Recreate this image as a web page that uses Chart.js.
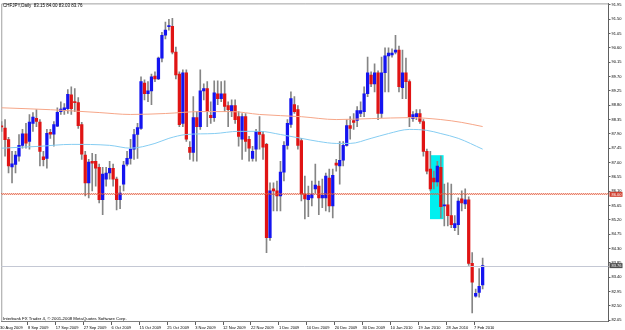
<!DOCTYPE html>
<html>
<head>
<meta charset="utf-8">
<script src="https://cdn.jsdelivr.net/npm/chart.js@4.4.1/dist/chart.umd.min.js"></script>
<style>
    html, body { margin: 0; padding: 0; background: #ffffff; }
</style>
</head>
<body>
<canvas id="chfjpy" width="625" height="330"></canvas>
<script>
// CHFJPY daily candles, one entry per bar (bar 0 = 30 Aug 2009)
let opens = [88.14,88.08,87.72,86.86,86.94,87.20,87.54,87.90,87.66,88.23,88.39,88.27,87.18,87.13,87.95,87.89,88.14,88.60,88.64,88.69,
    89.13,88.91,88.88,88.19,87.23,86.36,87.04,87.04,86.85,85.83,86.48,86.67,86.82,86.48,85.83,86.32,86.95,87.13,87.42,87.88,
    88.07,89.50,89.16,89.25,89.72,89.63,90.28,91.00,91.27,91.28,90.47,89.78,88.23,89.82,87.48,87.32,88.41,88.13,89.25,89.32,
    88.48,88.41,89.16,89.01,89.16,88.79,88.60,88.79,88.44,87.73,88.44,87.73,87.13,87.42,87.98,87.88,87.57,84.64,86.17,86.11,
    85.95,86.70,87.54,88.20,88.82,88.66,87.69,86.01,85.83,85.89,86.17,86.26,85.89,85.89,86.51,85.64,86.98,86.89,87.07,87.54,
    88.16,88.32,88.32,88.54,88.60,89.16,89.75,89.47,89.82,88.54,89.82,90.35,90.38,90.47,90.53,89.35,89.82,89.54,88.38,88.44,
    88.54,88.29,87.35,86.79,86.51,86.39,86.85,85.64,85.67,85.33,84.95,85.05,85.86,85.70,85.83,83.83,82.80,82.92,83.15];
let highs = [88.29,88.35,87.79,87.35,87.35,87.88,88.04,88.23,88.51,88.57,88.66,88.35,87.35,88.04,88.04,88.29,88.72,88.91,88.85,89.29,
    89.38,89.32,89.04,88.26,87.35,87.10,87.29,87.26,86.95,86.85,86.85,87.04,86.95,86.54,86.26,87.04,87.35,87.73,88.04,88.23,
    89.69,89.60,89.54,89.78,89.85,90.31,91.09,91.41,91.50,91.53,90.63,89.85,89.91,89.91,87.66,89.07,88.60,89.91,89.47,89.54,
    88.91,89.57,89.57,89.54,89.57,88.91,88.97,88.97,88.60,88.54,88.54,87.82,87.51,88.04,88.44,87.98,87.60,86.36,86.36,86.42,
    87.04,87.66,88.35,89.22,89.07,88.79,87.76,86.57,86.26,86.42,86.95,86.42,86.48,86.67,86.79,86.79,87.10,87.66,87.66,88.35,
    88.44,88.54,88.76,88.91,89.38,90.31,89.85,90.10,89.88,90.31,90.60,90.60,90.57,91.00,90.66,90.53,90.28,89.60,88.60,88.66,
    88.66,88.35,87.42,87.35,86.73,87.04,87.20,86.32,86.36,86.32,85.33,85.89,86.11,86.17,85.92,84.17,83.02,83.67,84.00];
let lows = [87.98,87.20,86.67,86.36,86.67,87.04,87.45,87.45,87.42,87.98,88.13,86.89,86.89,86.82,87.76,87.51,88.13,88.51,88.51,88.54,
    88.51,88.60,88.07,87.10,85.95,85.89,86.11,86.26,85.73,85.36,86.26,86.48,86.26,85.51,85.55,86.11,86.89,86.95,87.10,87.13,
    88.04,88.97,88.91,88.82,89.54,89.60,90.16,90.88,91.16,90.41,89.63,88.13,88.13,87.66,87.10,87.04,87.04,88.04,88.97,88.13,
    88.23,88.29,88.82,88.91,88.60,88.13,88.44,88.23,87.51,87.10,87.35,87.04,87.04,87.04,87.42,87.10,84.17,84.55,85.48,85.48,
    85.48,86.42,87.42,88.10,88.54,87.42,85.79,85.23,85.30,85.64,86.04,85.36,85.58,85.48,85.45,85.26,86.73,86.32,86.89,87.51,
    87.73,88.04,88.13,88.44,88.44,89.07,89.38,89.22,88.35,88.41,89.22,89.22,90.31,90.41,89.22,89.01,89.01,88.13,88.29,88.35,
    88.23,87.20,86.64,86.11,86.17,86.26,85.26,85.01,85.01,84.95,84.86,84.73,85.48,85.55,83.77,82.27,82.77,82.77,83.03];
let closes = [88.12,87.72,86.89,86.96,87.23,87.54,87.90,87.61,88.27,88.43,88.29,87.35,87.09,87.92,87.89,88.19,88.58,88.68,88.72,89.14,
    88.69,88.88,88.16,87.26,86.36,87.01,86.98,86.82,85.83,86.64,86.67,86.82,86.48,85.83,86.04,86.92,87.13,87.42,87.88,88.10,
    89.54,89.16,89.25,89.69,89.63,90.28,91.00,91.16,91.29,90.47,89.75,88.19,89.82,87.73,87.32,88.41,88.13,89.25,89.32,88.60,
    88.41,89.19,89.01,89.16,88.76,88.66,88.79,88.35,87.82,88.44,87.66,87.45,87.35,87.98,87.88,87.48,84.64,86.11,86.11,85.95,
    86.70,87.54,88.23,89.01,88.60,87.54,86.01,85.86,85.98,86.01,86.29,85.89,85.98,86.57,85.64,86.60,86.92,87.07,87.54,88.16,
    88.07,88.26,88.63,88.63,89.16,89.82,89.47,89.82,88.54,89.82,90.35,90.44,90.44,90.53,89.38,89.82,89.54,88.44,88.51,88.54,
    88.29,87.35,86.73,86.17,86.39,86.89,85.61,85.67,85.33,85.05,85.08,85.79,85.73,85.83,83.83,83.24,82.89,83.11,83.76];

// moving averages at a few bars
let maSlowBars = [0,14,28,37,47,57,66,74,86,96,106,117,126,132,138];
let maSlow = [88.72,88.66,88.57,88.51,88.54,88.60,88.60,88.51,88.44,88.35,88.38,88.41,88.35,88.26,88.13];
let maFastBars = [0,11,20,31,37,44,48,53,61,68,74,80,86,91,96,100,106,111,117,122,126,131,138];
let maFast = [87.45,87.51,87.57,87.54,87.45,87.60,87.76,87.88,87.91,87.98,87.98,87.88,87.76,87.66,87.60,87.60,87.76,87.91,88.04,88.01,87.91,87.76,87.42];

// axis labels
let dateLabels = ['30 Aug 2009','8 Sep 2009','17 Sep 2009','27 Sep 2009','6 Oct 2009','15 Oct 2009','25 Oct 2009','3 Nov 2009',
    '12 Nov 2009','22 Nov 2009','1 Dec 2009','10 Dec 2009','20 Dec 2009','30 Dec 2009','10 Jan 2010','19 Jan 2010','28 Jan 2010','7 Feb 2010'];
let priceTicks = [82.05,82.50,82.95,83.40,83.85,84.30,84.75,85.20,85.65,86.10,86.55,87.00,87.45,87.90,88.35,88.80,89.25,89.70,90.15,90.60,91.05,91.50,91.95];

// chart objects: horizontal level, last price, highlighted rectangle (from bar, to bar, low, high)
let levelLine = 86.00;
let lastPrice = 83.76;
let highlightBox = [122.9, 126.8, 85.22, 87.23];

let titleText = 'CHFJPY,Daily  83.15 84.00 83.03 83.76';
let footText = 'Interbank FX Trader 4, \u00a9 2001-2008 MetaQuotes Software Corp.';

const FONT = 'Liberation Sans';

let mtObjects = {
    id: 'mtObjects',
    beforeDatasetsDraw(chart){
        let ctx = chart.ctx;
        let x = chart.scales.x, y = chart.scales.y;
        let a = chart.chartArea;
        ctx.save();
        //frame top + left
        ctx.strokeStyle = '#a0a0a0';
        ctx.lineWidth = 1;
        ctx.beginPath();
        ctx.moveTo(a.left + 0.5, a.bottom);
        ctx.lineTo(a.left + 0.5, a.top + 0.5);
        ctx.lineTo(a.right, a.top + 0.5);
        ctx.stroke();
        //cyan rectangle
        let x0 = x.getPixelForValue(highlightBox[0]);
        let x1 = x.getPixelForValue(highlightBox[1]);
        let yb = y.getPixelForValue(highlightBox[2]);
        let yt = y.getPixelForValue(highlightBox[3]);
        ctx.fillStyle = '#00f0f0';
        ctx.fillRect(x0, yt, x1 - x0, yb - yt);
        ctx.restore();
    },
    afterDatasetsDraw(chart){
        let ctx = chart.ctx;
        let y = chart.scales.y;
        let a = chart.chartArea;
        ctx.save();
        //last price line
        let py = Math.round(y.getPixelForValue(lastPrice)) + 0.5;
        ctx.strokeStyle = '#c4c8d4';
        ctx.lineWidth = 1;
        ctx.beginPath();
        ctx.moveTo(a.left, py);
        ctx.lineTo(a.right, py);
        ctx.stroke();
        //dotted level line, two rows
        let ly = Math.round(y.getPixelForValue(levelLine)) - 0.5;
        ctx.strokeStyle = '#e2583a';
        ctx.setLineDash([1, 1]);
        for(let r = 0; r < 2; r++){
            ctx.lineDashOffset = r;
            ctx.beginPath();
            ctx.moveTo(a.left, ly + r);
            ctx.lineTo(a.right, ly + r);
            ctx.stroke();
        }
        ctx.restore();
    },
    afterDraw(chart){
        let ctx = chart.ctx;
        let y = chart.scales.y;
        let a = chart.chartArea;
        ctx.save();
        ctx.textBaseline = 'middle';
        ctx.font = '4px ' + FONT;
        //price boxes on the axis
        [[levelLine, '#d04030'], [lastPrice, '#505050']].forEach(b => {
            let by = y.getPixelForValue(b[0]);
            ctx.fillStyle = b[1];
            ctx.fillRect(a.right + 1, by - 2.5, 13, 5);
            ctx.fillStyle = '#ffffff';
            ctx.fillText(b[0].toFixed(2), a.right + 3, by + 0.2);
        });
        //texts
        ctx.fillStyle = '#000000';
        ctx.textBaseline = 'alphabetic';
        ctx.font = '4.5px ' + FONT;
        ctx.fillText(titleText, 3, 6.5);
        ctx.font = '4.3px ' + FONT;
        ctx.fillText(footText, 3, 319.5);
        ctx.restore();
    }
};

let candleBodies = opens.map((o, i) => ({x: i, y: [o, closes[i]]}));
let candleWicks = lows.map((l, i) => ({x: i, y: [l, highs[i]]}));
let bodyColors = opens.map((o, i) => closes[i] >= o ? '#1414f0' : '#e01414');

new Chart(document.querySelector('#chfjpy'), {
    type: 'bar',
    data: {
        datasets: [
            {
                type: 'line',
                data: maSlowBars.map((b, i) => ({x: b, y: maSlow[i]})),
                borderColor: '#f6a688',
                borderWidth: 1,
                pointRadius: 0,
                cubicInterpolationMode: 'monotone',
                order: 1
            },
            {
                type: 'line',
                data: maFastBars.map((b, i) => ({x: b, y: maFast[i]})),
                borderColor: '#86cdf2',
                borderWidth: 1,
                pointRadius: 0,
                cubicInterpolationMode: 'monotone',
                order: 1
            },
            {
                data: candleBodies,
                backgroundColor: bodyColors,
                barThickness: 2.6,
                minBarLength: 1,
                grouped: false,
                order: 2
            },
            {
                data: candleWicks,
                backgroundColor: '#858585',
                barThickness: 1,
                grouped: false,
                order: 3
            }
        ]
    },
    options: {
        responsive: false,
        animation: false,
        layout: { padding: { left: 1, top: 1, right: 0, bottom: 0 } },
        plugins: {
            legend: { display: false },
            tooltip: { enabled: false },
            title: { display: false }
        },
        scales: {
            x: {
                type: 'linear',
                min: -0.09,
                max: 174.1,
                offset: false,
                afterBuildTicks: s => { s.ticks = dateLabels.map((d, i) => ({value: i * 8 - 0.45})); },
                afterFit: s => { s.height = 9; },
                ticks: {
                    autoSkip: false,
                    maxRotation: 0,
                    align: 'start',
                    padding: 0,
                    color: '#000000',
                    font: { family: FONT, size: 4 },
                    callback: (v, i) => dateLabels[i]
                },
                grid: { drawOnChartArea: false, offset: false, tickLength: 4, color: '#606060' },
                border: { color: '#808080' }
            },
            y: {
                position: 'right',
                min: 82.02,
                max: 92.0,
                afterBuildTicks: s => { s.ticks = priceTicks.map(v => ({value: v})); },
                afterFit: s => { s.width = 16.5; },
                ticks: {
                    padding: 1,
                    color: '#000000',
                    font: { family: FONT, size: 4 },
                    callback: v => v.toFixed(2)
                },
                grid: { drawOnChartArea: false, tickLength: 2, color: '#606060' },
                border: { color: '#606060' }
            }
        }
    },
    plugins: [mtObjects]
});
</script>
</body>
</html>
